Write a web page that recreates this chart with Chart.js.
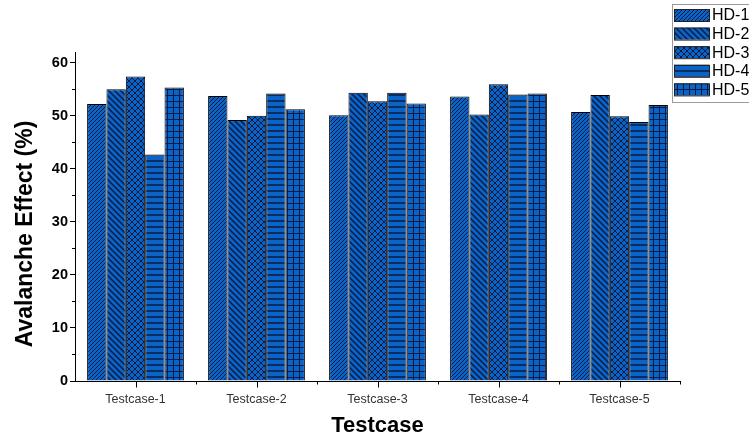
<!DOCTYPE html>
<html>
<head>
<meta charset="utf-8">
<script src="https://cdn.jsdelivr.net/npm/chart.js@4"></script>
<style>
  body { margin: 0; background: #fff; }
</style>
</head>
<body>
<canvas id="barChart" width="749" height="439"></canvas>
<script>
const categories = ["Testcase-1", "Testcase-2", "Testcase-3", "Testcase-4", "Testcase-5"];
const seriesNames = ["HD-1", "HD-2", "HD-3", "HD-4", "HD-5"];
const hd1 = [52.2, 53.7, 50.1, 53.6, 50.7];
const hd2 = [55.0, 49.2, 54.3, 50.2, 53.9];
const hd3 = [57.4, 50.0, 52.7, 55.9, 49.9];
const hd4 = [42.7, 54.2, 54.3, 54.0, 48.8];
const hd5 = [55.3, 51.2, 52.3, 54.2, 52.0];
const yTicks = [0, 10, 20, 30, 40, 50, 60];
const yTitle = "Avalanche Effect (%)";

const blue = "#0a64c8";

// little tile canvases for the hatch fills
function makePattern(kind) {
  const c = document.createElement("canvas");
  const s = kind === "hd1" ? 4 : 6;
  c.width = s; c.height = s;
  const g = c.getContext("2d");
  g.fillStyle = blue;
  g.fillRect(0, 0, s, s);
  g.strokeStyle = "#0a1a40";
  g.lineWidth = 1;
  g.beginPath();
  if (kind === "hd1") {
    g.moveTo(0, s); g.lineTo(s, 0);
    g.moveTo(-1, 1); g.lineTo(1, -1);
    g.moveTo(s - 1, s + 1); g.lineTo(s + 1, s - 1);
  } else if (kind === "hd2") {
    g.lineWidth = 1.5;
    g.moveTo(0, 0); g.lineTo(s, s);
    g.moveTo(-1, s - 1); g.lineTo(1, s + 1);
    g.moveTo(s - 1, -1); g.lineTo(s + 1, 1);
  } else if (kind === "hd3") {
    g.moveTo(0, 0); g.lineTo(s, s);
    g.moveTo(0, s); g.lineTo(s, 0);
  } else if (kind === "hd4") {
    g.lineWidth = 1.5;
    g.moveTo(0, s - 1); g.lineTo(s, s - 1);
  } else {
    g.moveTo(0, s - 0.5); g.lineTo(s, s - 0.5);
    g.moveTo(s - 0.5, 0); g.lineTo(s - 0.5, s);
  }
  g.stroke();
  return g.createPattern(c, "repeat");
}

const ctx = document.getElementById("barChart").getContext("2d");
const fills = ["hd1", "hd2", "hd3", "hd4", "hd5"].map(makePattern);
const values = [hd1, hd2, hd3, hd4, hd5];

const extras = {
  id: "extras",
  afterDraw(chart) {
    const g = chart.ctx;
    const x = chart.scales.x, y = chart.scales.y;
    g.save();
    g.strokeStyle = "#000";
    g.lineWidth = 1;
    // y minor ticks
    for (let v = 5; v < 62; v += 10) {
      const py = Math.round(y.getPixelForValue(v)) + 0.5;
      g.beginPath(); g.moveTo(x.left - 3, py); g.lineTo(x.left, py); g.stroke();
    }
    // x ticks: major at centres, minor at boundaries
    const base = Math.round(y.bottom) + 0.5;
    categories.forEach((c, i) => {
      const px = Math.round(x.getPixelForValue(i)) + 0.5;
      g.beginPath(); g.moveTo(px, base); g.lineTo(px, base + 6); g.stroke();
      const bx = Math.round(x.getPixelForValue(i + 0.5)) + 0.5;
      g.beginPath(); g.moveTo(bx, base); g.lineTo(bx, base + 3); g.stroke();
    });
    // y title, placed a bit below the middle like the original
    g.save();
    g.translate(26, 234);
    g.rotate(-Math.PI / 2);
    g.font = "bold 23px 'Liberation Sans', Arial, sans-serif";
    g.textAlign = "center";
    g.textBaseline = "middle";
    g.fillStyle = "#000";
    g.fillText(yTitle, 0, 0);
    g.restore();
    // legend
    g.fillStyle = "#fff";
    g.fillRect(672, 4, 80, 98);
    g.strokeStyle = "#9a9a9a";
    g.strokeRect(672.5, 4.5, 80, 98);
    g.font = "16px 'Liberation Sans', Arial, sans-serif";
    g.textBaseline = "middle";
    chart.data.datasets.forEach((ds, i) => {
      const ry = 9 + i * 18.6;
      g.fillStyle = ds.backgroundColor;
      g.fillRect(674, ry, 35, 12);
      g.strokeStyle = "#222";
      g.strokeRect(674.5, ry + 0.5, 35, 12);
      g.fillStyle = "#000";
      g.fillText(ds.label, 712, ry + 7);
    });
    g.restore();
  }
};

new Chart(ctx, {
  type: "bar",
  data: {
    labels: categories,
    datasets: seriesNames.map((name, i) => ({
      label: name,
      data: values[i],
      backgroundColor: fills[i],
      borderColor: "#000",
      borderWidth: 1,
      borderSkipped: "bottom",
      categoryPercentage: 0.8,
      barPercentage: 1.0
    }))
  },
  options: {
    responsive: false,
    animation: false,
    layout: { padding: { top: 52, right: 69, left: 0, bottom: 0 } },
    plugins: {
      legend: { display: false },
      tooltip: { enabled: false }
    },
    scales: {
      x: {
        grid: { display: false },
        border: { display: true, color: "#000", width: 1 },
        ticks: {
          color: "#333",
          font: { family: "'Liberation Sans', Arial", size: 12.5 },
          padding: 3,
          maxRotation: 0
        },
        title: {
          display: true,
          text: "Testcase",
          color: "#000",
          font: { family: "'Liberation Sans', Arial", size: 22, weight: "bold" },
          padding: { top: 10, bottom: 0 }
        },
        afterFit(scale) { scale.height = 58; }
      },
      y: {
        min: 0,
        max: 62,
        afterBuildTicks(scale) { scale.ticks = yTicks.map(v => ({ value: v })); },
        grid: { drawOnChartArea: false, tickLength: 5, color: "#000" },
        border: { display: true, color: "#000", width: 1 },
        ticks: {
          color: "#000",
          font: { family: "'Liberation Sans', Arial", size: 14.5, weight: "bold" },
          padding: 2
        },
        afterFit(scale) { scale.width = 75; }
      }
    }
  },
  plugins: [extras]
});
</script>
</body>
</html>
